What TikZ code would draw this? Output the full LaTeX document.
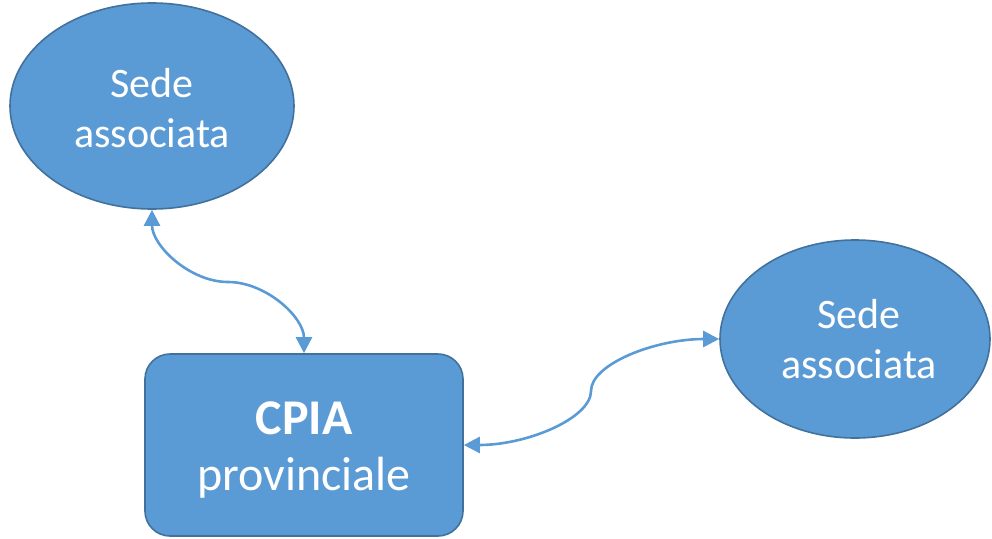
\documentclass[tikz,border=0pt]{standalone}
\usepackage{fontspec}
\setmainfont{Carlito}
\usetikzlibrary{shapes.geometric,arrows.meta}
\definecolor{offblue}{HTML}{5B9BD5}
\definecolor{offline}{HTML}{41719C}
\begin{document}
\begin{tikzpicture}[x=1pt,y=-1pt,
  shapebox/.style={fill=offblue,draw=offline,line width=1.6pt,inner sep=0pt},
  sede/.style={shapebox,ellipse},
  label/.style={text=white,align=center,inner sep=0pt,anchor=base},
  conn/.style={draw=offblue,line width=2.6pt,{Triangle[length=16pt,width=16pt]}-{Triangle[length=16pt,width=16pt]}}
]
\useasboundingbox (0,0) rectangle (992,538);
\node[sede,minimum width=284pt,minimum height=206pt] (e1) at (152,106) {};
\node[sede,minimum width=270pt,minimum height=198pt] (e2) at (855,339) {};
\node[shapebox,rounded corners=25pt,minimum width=318pt,minimum height=182pt] (r) at (304,445) {};
\node[label,font=\fontsize{42}{50}\selectfont] (t1) at (152,147) {Sede\\associata};
\node[label,font=\fontsize{42}{50}\selectfont] (t2) at (859,378) {Sede\\associata};
\node[label,font=\fontsize{48}{56}\selectfont] (t3) at (304,490) {{\fontsize{50}{56}\selectfont\bfseries CPIA}\\provinciale};
\coordinate (m1) at (228,282);
\coordinate (m2) at (591,391);
\draw[conn] (e1.south) .. controls +(0,36) and +(-38,0) .. (m1) .. controls +(38,0) and +(0,-36) .. (r.north);
\draw[conn] (r.east) .. controls +(64,0) and +(0,27) .. (m2) .. controls +(0,-27) and +(-64,0) .. (e2.west);
\end{tikzpicture}
\end{document}
